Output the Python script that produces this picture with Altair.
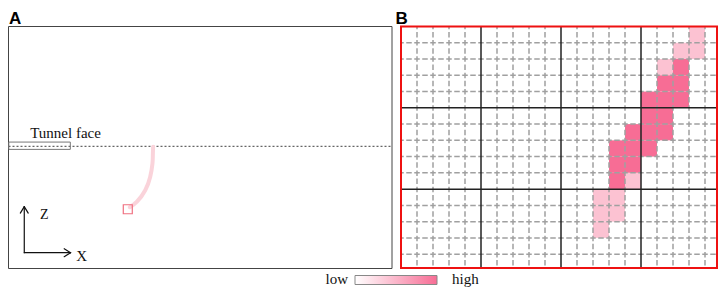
import altair as alt
import pandas as pd

# ---------------- Panel A : schematic (units = panel px, x right, z down from top-left) ----
panel_a_w, panel_a_h = 389, 245
face_level = 121.4
face_box_x, face_box_x2, face_box_y, face_box_y2 = 0.3, 62.7, 117.0, 124.4
path_x = [146.7, 146.4, 146.0, 143.7, 138.7, 130.3, 123.0]
path_y = [121.7, 130.7, 139.0, 152.4, 165.7, 177.4, 183.0]
source_x, source_y = 121.0, 185.0
seg_x1 = [16, 16, 12, 20, 56.5, 56.5]
seg_y1 = [229, 229, 188.9, 188.9, 225, 233]
seg_x2 = [16, 63, 16, 16, 63, 63]
seg_y2 = [182.4, 229, 182.4, 182.4, 229, 229]
a_text = ["Tunnel face", "Z", "X"]
a_text_x = [22, 32, 68.7]
a_text_y = [112.4, 194.7, 237.4]
a_text_size = [15, 14, 15]

# ---------------- Panel B : cell grid ----------------
n_cols, n_rows = 20, 15
vis_cols, vis_rows = 19.75, 14.85
cell_col = [18, 17, 18, 16, 17, 16, 17, 15, 16, 17, 15, 16, 14, 15, 16,
            13, 14, 15, 13, 14, 13, 14, 12, 13, 12, 13, 12]
cell_row = [0, 1, 1, 2, 2, 3, 3, 4, 4, 4, 5, 5, 6, 6, 6,
            7, 7, 7, 8, 8, 9, 9, 10, 10, 11, 11, 12]
cell_val = [0.42, 0.42, 0.42, 0.42, 1.0, 1.0, 1.0, 1.0, 1.0, 1.0, 1.0, 1.0, 1.0, 1.0, 1.0,
            1.0, 1.0, 1.0, 1.0, 1.0, 1.0, 0.42, 0.42, 0.42, 0.42, 0.42, 0.42]
major_every = 5

# ---------------- labels / legend ----------------
panel_labels = ["A", "B"]
legend_labels = ["low", "high"]
low_col, high_col = "#ffffff", "#f76d95"


def sc(d, r):
    return alt.Scale(domain=d, range=r, nice=False, zero=False)


AX = lambda: sc([0, panel_a_w], [0.5, 384])
AY = lambda: sc([0, panel_a_h], [18.5, 260.5])
BX = lambda: sc([0, vis_cols], [393, 709])
BY = lambda: sc([0, vis_rows], [18.5, 260])
PX = lambda: sc([8, 718], [0, 710])
PY = lambda: sc([8, 288], [0, 280])
LX = lambda: sc([0, 1], [347, 429])


def xq(f, s):
    return alt.X(f"{f}:Q", scale=s, axis=None)


def yq(f, s):
    return alt.Y(f"{f}:Q", scale=s, axis=None)


layers = []

# Panel A frame
dfa = pd.DataFrame({"x": [0], "x2": [panel_a_w], "y": [0], "y2": [panel_a_h]})
layers.append(alt.Chart(dfa).mark_rect(fillOpacity=0, stroke="#444444", strokeWidth=1).encode(
    x=xq("x", AX()), x2="x2:Q", y=yq("y", AY()), y2="y2:Q"))

# tunnel face line
dff = pd.DataFrame({"x": [0], "x2": [panel_a_w], "y": [face_level]})
layers.append(alt.Chart(dff).mark_rule(stroke="#666666", strokeWidth=1.2, strokeDash=[2, 2]).encode(
    x=xq("x", AX()), x2="x2:Q", y=yq("y", AY())))

# tunnel face box
dfb = pd.DataFrame({"x": [face_box_x], "x2": [face_box_x2], "y": [face_box_y], "y2": [face_box_y2]})
layers.append(alt.Chart(dfb).mark_rect(fillOpacity=0, stroke="#777777", strokeWidth=1).encode(
    x=xq("x", AX()), x2="x2:Q", y=yq("y", AY()), y2="y2:Q"))

# path
dfp = pd.DataFrame({"x": path_x, "y": path_y, "i": list(range(len(path_x)))})
layers.append(alt.Chart(dfp).mark_line(stroke="#fad3da", strokeWidth=4, interpolate="natural",
                                       strokeCap="round").encode(
    x=xq("x", AX()), y=yq("y", AY()), order="i:Q"))

# source square
dfs = pd.DataFrame({"x": [source_x], "y": [source_y]})
layers.append(alt.Chart(dfs).mark_point(shape="square", filled=False, size=81, stroke="#f07080",
                                        strokeWidth=1.2, opacity=1).encode(
    x=xq("x", AX()), y=yq("y", AY())))

# axis arrows
dfr = pd.DataFrame({"x": seg_x1, "y": seg_y1, "x2": seg_x2, "y2": seg_y2})
layers.append(alt.Chart(dfr).mark_rule(stroke="#111111", strokeWidth=1.2, strokeCap="round").encode(
    x=xq("x", AX()), y=yq("y", AY()), x2="x2:Q", y2="y2:Q"))

# panel A texts
for t, x, y, s in zip(a_text, a_text_x, a_text_y, a_text_size):
    d = pd.DataFrame({"t": [t], "x": [x], "y": [y]})
    layers.append(alt.Chart(d).mark_text(font="Liberation Serif", fontSize=s, align="left",
                                         baseline="alphabetic", color="#111111").encode(
        x=xq("x", AX()), y=yq("y", AY()), text="t:N"))

# Panel B cells
dfc = pd.DataFrame({"col": cell_col, "row": cell_row, "v": cell_val})
dfc["col2"] = dfc["col"] + 1
dfc["row2"] = dfc["row"] + 1
layers.append(alt.Chart(dfc).mark_rect().encode(
    x=xq("col", BX()), x2="col2:Q", y=yq("row", BY()), y2="row2:Q",
    color=alt.Color("v:Q", scale=alt.Scale(domain=[0, 1], range=[low_col, high_col],
                                           interpolate="rgb"), legend=None)))

# dashed minor grid
minor_c = [c for c in range(1, n_cols) if c % major_every]
minor_r = [r for r in range(1, n_rows) if r % major_every]
dfv = pd.DataFrame({"c": minor_c, "y": 0.0, "y2": vis_rows})
layers.append(alt.Chart(dfv).mark_rule(stroke="#a0a0a0", strokeWidth=1.5, strokeDash=[5.5, 2.65],
                                       strokeDashOffset=2.75).encode(
    x=xq("c", BX()), y=yq("y", BY()), y2="y2:Q"))
dfh = pd.DataFrame({"r": minor_r, "x": 0.0, "x2": vis_cols})
layers.append(alt.Chart(dfh).mark_rule(stroke="#a0a0a0", strokeWidth=1.5, strokeDash=[5.5, 2.5],
                                       strokeDashOffset=2.75).encode(
    y=yq("r", BY()), x=xq("x", BX()), x2="x2:Q"))

# major grid
major_c = [c for c in range(1, n_cols) if c % major_every == 0]
major_r = [r for r in range(1, n_rows) if r % major_every == 0]
dfmv = pd.DataFrame({"c": major_c, "y": 0.0, "y2": vis_rows})
layers.append(alt.Chart(dfmv).mark_rule(stroke="#222222", strokeWidth=1.5).encode(
    x=xq("c", BX()), y=yq("y", BY()), y2="y2:Q"))
dfmh = pd.DataFrame({"r": major_r, "x": 0.0, "x2": vis_cols})
layers.append(alt.Chart(dfmh).mark_rule(stroke="#222222", strokeWidth=1.5).encode(
    y=yq("r", BY()), x=xq("x", BX()), x2="x2:Q"))

# red frame
dfrf = pd.DataFrame({"x": [0.0], "x2": [vis_cols], "y": [0.0], "y2": [vis_rows]})
layers.append(alt.Chart(dfrf).mark_rect(fillOpacity=0, stroke="#ee1111", strokeWidth=2).encode(
    x=xq("x", BX()), x2="x2:Q", y=yq("y", BY()), y2="y2:Q"))

# panel labels
dfl = pd.DataFrame({"t": panel_labels, "x": [9, 395.5], "y": [24.0, 24.0]})
layers.append(alt.Chart(dfl).mark_text(font="Liberation Sans", fontWeight="bold", fontSize=17,
                                       align="left", baseline="alphabetic", color="#000000").encode(
    x=xq("x", PX()), y=yq("y", PY()), text="t:N"))

# legend bar
grad = alt.LinearGradient(gradient="linear",
                          stops=[alt.GradientStop(color=low_col, offset=0),
                                 alt.GradientStop(color=high_col, offset=1)],
                          x1=0, x2=1, y1=0, y2=0)
dflg = pd.DataFrame({"x": [0.0], "x2": [1.0], "y": [275.5], "y2": [284.5]})
layers.append(alt.Chart(dflg).mark_rect(fill=grad, stroke="#888888", strokeWidth=1).encode(
    x=xq("x", LX()), x2="x2:Q", y=yq("y", PY()), y2="y2:Q"))
dflow = pd.DataFrame({"t": [legend_labels[0]], "x": [0.0], "y": [284.0]})
layers.append(alt.Chart(dflow).mark_text(font="Liberation Serif", fontSize=15, align="right",
                                         baseline="alphabetic", dx=-7, color="#111111").encode(
    x=xq("x", LX()), y=yq("y", PY()), text="t:N"))
dfhigh = pd.DataFrame({"t": [legend_labels[1]], "x": [1.0], "y": [284.0]})
layers.append(alt.Chart(dfhigh).mark_text(font="Liberation Serif", fontSize=15, align="left",
                                          baseline="alphabetic", dx=15, color="#111111").encode(
    x=xq("x", LX()), y=yq("y", PY()), text="t:N"))

chart = alt.layer(*layers).resolve_scale(
    x="independent", y="independent", color="independent"
).properties(
    width=710, height=280, padding=0, autosize=alt.AutoSizeParams(type="none"),
    background="white"
).configure_view(stroke=None)

chart.save("out.html", embed_options={"renderer": "svg", "actions": False})
